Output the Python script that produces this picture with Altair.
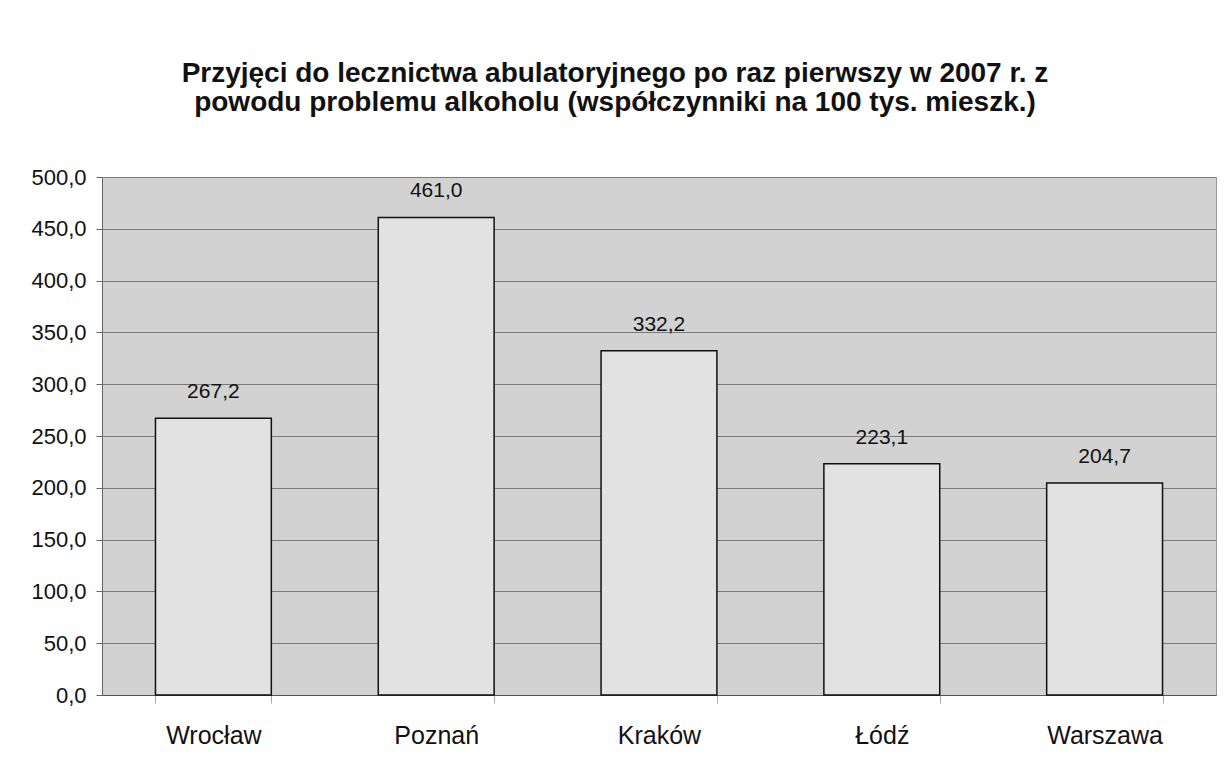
import altair as alt
import pandas as pd

cities = ["Wrocław", "Poznań", "Kraków", "Łódź", "Warszawa"]
values = [267.2, 461.0, 332.2, 223.1, 204.7]
y_ticks = [0, 50, 100, 150, 200, 250, 300, 350, 400, 450, 500]

df = pd.DataFrame({"city": cities, "value": values})

FONT = "Liberation Sans"

base = alt.Chart(df).encode(
    x=alt.X("city:N", sort=cities, title=None,
            scale=alt.Scale(paddingInner=0.48, paddingOuter=0.24),
            axis=alt.Axis(labelAngle=0, labelFontSize=25, labelFont=FONT,
                          labelColor="#111", labelPadding=20, tickBand="extent",
                          tickSize=8, tickColor="#aaa", domainColor="#555",
                          grid=False)),
    y=alt.Y("value:Q", title=None,
            scale=alt.Scale(domain=[0, 500], nice=False),
            axis=alt.Axis(values=y_ticks, labelFontSize=22, labelFont=FONT,
                          labelColor="#111", labelPadding=10, tickSize=6,
                          tickColor="#666", domainColor="#666",
                          labelExpr="replace(format(datum.value, '.1f'), '.', ',')",
                          gridColor="#7a7a7a", gridWidth=1)),
)

bars = base.mark_bar(color="#e2e2e2", stroke="#111", strokeWidth=1.5)

labels = base.transform_calculate(
    lab="replace(format(datum.value, '.1f'), '.', ',')"
).mark_text(dy=-26, fontSize=21, font=FONT, color="#111").encode(text="lab:N")

chart = (bars + labels).properties(
    width=1114, height=518,
    background="white",
    padding={"left": 22, "top": 52, "right": 5, "bottom": 5},
    title=alt.TitleParams(
        text=["Przyjęci do lecznictwa abulatoryjnego po raz pierwszy w 2007 r. z",
              "powodu problemu alkoholu (współczynniki na 100 tys. mieszk.)"],
        font=FONT, fontSize=28, fontWeight="bold", color="#111",
        lineHeight=29, offset=49, dx=-44, anchor="middle"),
).configure_view(fill="#d2d2d2", stroke="#999")

chart.save("out.html", embed_options={"renderer": "svg", "actions": False})
